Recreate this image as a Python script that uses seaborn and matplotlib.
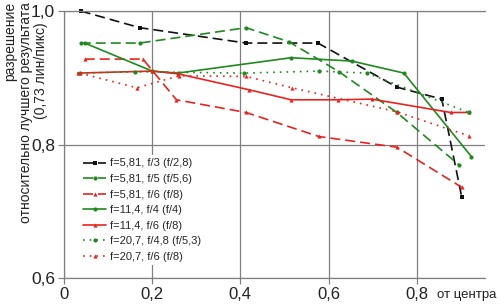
import matplotlib
matplotlib.use("Agg")
import matplotlib.pyplot as plt
import seaborn as sns
import pandas as pd

sns.set_theme(style="white")
plt.rcParams['font.family'] = ['Liberation Sans', 'DejaVu Sans']

# series data
labels = ["f=5,81, f/3 (f/2,8)", "f=5,81, f/5 (f/5,6)", "f=5,81, f/6 (f/8)",
          "f=11,4, f/4 (f/4)", "f=11,4, f/6 (f/8)",
          "f=20,7, f/4,8 (f/5,3)", "f=20,7, f/6 (f/8)"]

x_blk_dash = [0.038, 0.172, 0.413, 0.576, 0.755, 0.857, 0.902]
y_blk_dash = [1.000, 0.975, 0.952, 0.952, 0.886, 0.868, 0.722]

x_grn_dash = [0.038, 0.172, 0.413, 0.510, 0.624, 0.755, 0.895]
y_grn_dash = [0.952, 0.952, 0.975, 0.954, 0.909, 0.848, 0.770]

x_red_dash = [0.047, 0.179, 0.255, 0.413, 0.578, 0.755, 0.902]
y_red_dash = [0.928, 0.928, 0.867, 0.848, 0.812, 0.796, 0.736]

x_grn_sol = [0.047, 0.200, 0.258, 0.515, 0.653, 0.771, 0.924]
y_grn_sol = [0.952, 0.910, 0.907, 0.930, 0.925, 0.907, 0.782]

x_red_sol = [0.031, 0.200, 0.258, 0.420, 0.515, 0.621, 0.698, 0.877, 0.918]
y_red_sol = [0.907, 0.910, 0.906, 0.882, 0.867, 0.867, 0.868, 0.848, 0.848]

x_grn_dot = [0.036, 0.160, 0.409, 0.578, 0.687, 0.918]
y_grn_dot = [0.907, 0.909, 0.907, 0.910, 0.907, 0.848]

x_red_dot = [0.036, 0.165, 0.262, 0.413, 0.517, 0.755, 0.918]
y_red_dot = [0.907, 0.885, 0.903, 0.902, 0.885, 0.849, 0.813]

xs = [x_blk_dash, x_grn_dash, x_red_dash, x_grn_sol, x_red_sol, x_grn_dot, x_red_dot]
ys = [y_blk_dash, y_grn_dash, y_red_dash, y_grn_sol, y_red_sol, y_grn_dot, y_red_dot]

x_ticks = [0, 0.2, 0.4, 0.6, 0.8]
x_ticklabels = ["0", "0,2", "0,4", "0,6", "0,8"]
y_ticks = [0.6, 0.8, 1.0]
y_ticklabels = ["0,6", "0,8", "1,0"]

BLACK = "#111111"
GREEN = "#1e8a1e"
RED = "#e8231f"
colors = [BLACK, GREEN, RED, GREEN, RED, GREEN, RED]
dashes = [(6, 3), (6, 3), (6, 3), (), (), (1, 3), (1, 3)]
markers = ["s", "o", "^", "o", "^", "o", "^"]

fig = plt.figure(figsize=(5.0, 3.06), dpi=100)
ax = fig.add_axes([0.128, 0.0915, 0.842, 0.8725])

for lab, x, y, c, d, m in zip(labels, xs, ys, colors, dashes, markers):
    df = pd.DataFrame({"x": x, "y": y})
    sns.lineplot(data=df, x="x", y="y", ax=ax, color=c, label=lab,
                 marker=m, markersize=3, markeredgewidth=0,
                 linewidth=1.2, sort=False, clip_on=False)
    ln = ax.lines[-1]
    if d:
        ln.set_dashes(d)
    else:
        ln.set_linestyle("-")

ax.set_xlim(0, 0.955)
ax.set_ylim(0.6, 1.0)
ax.set_xticks(x_ticks)
ax.set_xticklabels(x_ticklabels, fontsize=12)
ax.set_yticks(y_ticks)
ax.set_yticklabels(y_ticklabels, fontsize=12.5)
ax.set_xlabel("")
ax.set_ylabel("")
ax.grid(True, color="#808080", linewidth=0.9)
ax.set_axisbelow(True)
for s in ["left", "bottom", "top"]:
    ax.spines[s].set_color("#808080")
    ax.spines[s].set_linewidth(0.9)
ax.spines["right"].set_visible(False)
ax.tick_params(axis="both", length=4, width=0.9, color="#808080", pad=2.5,
               left=True, bottom=True, labelcolor="#222222")

ax.legend(loc="upper left", bbox_to_anchor=(0.024, 0.481), fontsize=8,
          frameon=True, facecolor="white", edgecolor="none", framealpha=1,
          handlelength=2.1, handletextpad=0.35, labelspacing=0.5,
          borderpad=0.3, fancybox=False)

# y label: three separate lines, right ends near the top
ylab_lines = ["разрешение", "относительно лучшего результата", "(0,73 лин/пикс)"]
ylab_x = [10, 26, 41]
ylab_top = [2, 2, 22]
for t, px, py in zip(ylab_lines, ylab_x, ylab_top):
    fig.text(px / 500, 1 - py / 306, t, rotation=90, ha="center", va="top",
             fontsize=10, color="#222222")
fig.text(0.934, 0.035, "от центра", ha="center", va="center", fontsize=9.5,
         color="#222222")

fig.savefig("out.png", dpi=100)
